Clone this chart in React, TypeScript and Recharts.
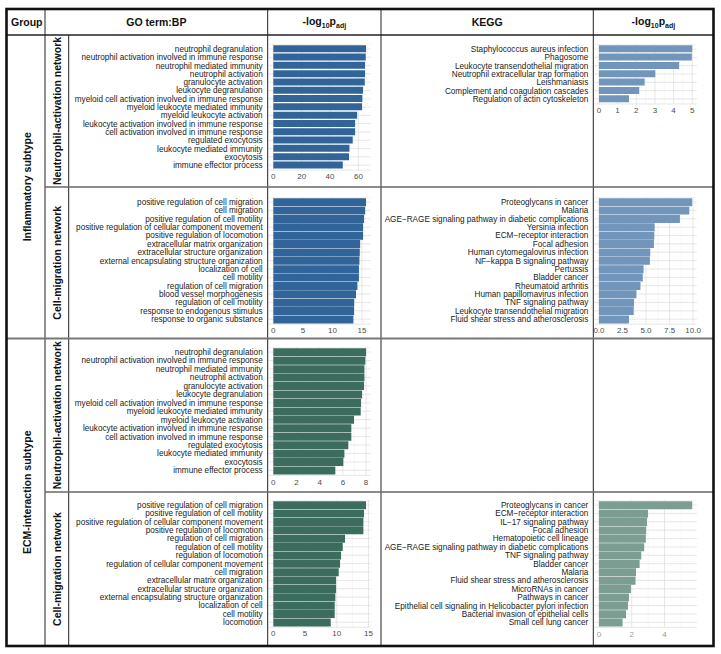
import React from 'react';
import { BarChart, Bar, XAxis, YAxis, CartesianGrid } from 'recharts';

const FONT = '"Liberation Sans", Arial, Helvetica, sans-serif';

// ---------- data ----------
const goNeutroTerms = [
  'neutrophil degranulation',
  'neutrophil activation involved in immune response',
  'neutrophil mediated immunity',
  'neutrophil activation',
  'granulocyte activation',
  'leukocyte degranulation',
  'myeloid cell activation involved in immune response',
  'myeloid leukocyte mediated immunity',
  'myeloid leukocyte activation',
  'leukocyte activation involved in immune response',
  'cell activation involved in immune response',
  'regulated exocytosis',
  'leukocyte mediated immunity',
  'exocytosis',
  'immune effector process',
];
const goInflNeutroValues = [65.4, 65.2, 64.7, 64.7, 64.5, 63.3, 62.8, 62.6, 59.1, 57.7, 57.7, 56.0, 53.7, 53.4, 49.0];
const goInflNeutroTicks = [0, 20, 40, 60];

const goEcmNeutroValues = [8.0, 7.94, 7.86, 7.86, 7.83, 7.66, 7.57, 7.54, 6.96, 6.73, 6.73, 6.47, 6.13, 6.04, 5.35];
const goEcmNeutroTicks = [0, 2, 4, 6, 8];

const goInflMigTerms = [
  'positive regulation of cell migration',
  'cell migration',
  'positive regulation of cell motility',
  'positive regulation of cellular component movement',
  'positive regulation of locomotion',
  'extracellular matrix organization',
  'extracellular structure organization',
  'external encapsulating structure organization',
  'localization of cell',
  'cell motility',
  'regulation of cell migration',
  'blood vessel morphogenesis',
  'regulation of cell motility',
  'response to endogenous stimulus',
  'response to organic substance',
];
const goInflMigValues = [15.7, 15.55, 15.37, 15.2, 15.2, 14.7, 14.64, 14.58, 14.5, 14.5, 14.24, 14.0, 13.7, 13.68, 13.56];
const goInflMigTicks = [0, 5, 10, 15];

const goEcmMigTerms = [
  'positive regulation of cell migration',
  'positive regulation of cell motility',
  'positive regulation of cellular component movement',
  'positive regulation of locomotion',
  'regulation of cell migration',
  'regulation of cell motility',
  'regulation of locomotion',
  'regulation of cellular component movement',
  'cell migration',
  'extracellular matrix organization',
  'extracellular structure organization',
  'external encapsulating structure organization',
  'localization of cell',
  'cell motility',
  'locomotion',
];
const goEcmMigValues = [14.62, 14.3, 14.2, 14.2, 11.3, 10.94, 10.68, 10.52, 10.31, 9.89, 9.89, 9.78, 9.68, 9.68, 9.05];
const goEcmMigTicks = [0, 5, 10, 15];

const keggInflNeutroTerms = [
  'Staphylococcus aureus infection',
  'Phagosome',
  'Leukocyte transendothelial migration',
  'Neutrophil extracellular trap formation',
  'Leishmaniasis',
  'Complement and coagulation cascades',
  'Regulation of actin cytoskeleton',
];
const keggInflNeutroValues = [5.0, 4.98, 4.3, 3.02, 2.45, 2.16, 1.61];
const keggInflNeutroTicks = [0, 1, 2, 3, 4, 5];

const keggInflMigTerms = [
  'Proteoglycans in cancer',
  'Malaria',
  'AGE\u2212RAGE signaling pathway in diabetic complications',
  'Yersinia infection',
  'ECM\u2212receptor interaction',
  'Focal adhesion',
  'Human cytomegalovirus infection',
  'NF\u2212kappa B signaling pathway',
  'Pertussis',
  'Bladder cancer',
  'Rheumatoid arthritis',
  'Human papillomavirus infection',
  'TNF signaling pathway',
  'Leukocyte transendothelial migration',
  'Fluid shear stress and atherosclerosis',
];
const keggInflMigValues = [9.91, 9.6, 8.6, 5.92, 5.88, 5.84, 5.45, 5.41, 4.74, 4.66, 4.41, 3.98, 3.72, 3.69, 3.19];
const keggInflMigTicks = [0, 2.5, 5, 7.5, 10];

const keggEcmMigTerms = [
  'Proteoglycans in cancer',
  'ECM\u2212receptor interaction',
  'IL\u221217 signaling pathway',
  'Focal adhesion',
  'Hematopoietic cell lineage',
  'AGE\u2212RAGE signaling pathway in diabetic complications',
  'TNF signaling pathway',
  'Bladder cancer',
  'Malaria',
  'Fluid shear stress and atherosclerosis',
  'MicroRNAs in cancer',
  'Pathways in cancer',
  'Epithelial cell signaling in Helicobacter pylori infection',
  'Bacterial invasion of epithelial cells',
  'Small cell lung cancer',
];
const keggEcmMigValues = [5.69, 2.99, 2.93, 2.88, 2.86, 2.76, 2.58, 2.48, 2.26, 2.23, 1.95, 1.83, 1.77, 1.65, 1.44];
const keggEcmMigTicks = [0, 2, 4];

// ---------- colours ----------
const BLUE = '#31659a';
const BLUE_LIGHT = '#7195bb';
const GREEN = '#3b6c5d';
const GREEN_LIGHT = '#7b9d92';

// ---------- panel ----------
type PanelProps = {
  terms: string[];
  values: number[];
  ticks: number[];
  color: string;
  left: number;
  top: number;
  yWidth: number;
  plotW: number;
  step: number;
  tickFmt?: (v: number) => string;
  tickFill?: string;
};

const YTick = (props: any) => {
  const { x, y, payload } = props;
  return (
    <text x={x} y={y} dy="0.36em" textAnchor="end" fontSize={8.2} fill="#1a1a1a" fontFamily={FONT}>
      {payload.value}
    </text>
  );
};

const makeXTick = (fmt: (v: number) => string, fill: string) => (props: any) => {
  const { x, y, payload } = props;
  return (
    <text x={x} y={y} dy="0.71em" textAnchor="middle" fontSize={8} fill={fill} fontFamily={FONT}>
      {fmt(payload.value)}
    </text>
  );
};

const RIGHT_PAD = 14;

const Panel = ({ terms, values, ticks, color, left, top, yWidth, plotW, step, tickFmt, tickFill }: PanelProps) => {
  const data = terms.map((t, i) => ({ term: t, v: values[i] }));
  const max = Math.max(...values);
  const domain: [number, number] = [-0.05 * max, 1.05 * max];
  const minors: number[] = [];
  for (let i = 0; i < ticks.length - 1; i++) minors.push((ticks[i] + ticks[i + 1]) / 2);
  const lastHalf = ticks[ticks.length - 1] + (ticks[1] - ticks[0]) / 2;
  if (lastHalf <= domain[1]) minors.push(lastHalf);
  const n = terms.length;
  const plotH = (n + 0.2) * step;
  const xH = 14;
  const fmt = tickFmt || ((v: number) => String(v));
  const XTick = makeXTick(fmt, tickFill || '#4d4d4d');
  return (
    <div style={{ position: 'absolute', left, top }}>
      <BarChart
        width={yWidth + plotW + RIGHT_PAD}
        height={plotH + xH}
        data={data}
        layout="vertical"
        margin={{ top: 0, right: RIGHT_PAD, bottom: 0, left: 0 }}
        barCategoryGap="5%"
      >
        <CartesianGrid horizontal={false} verticalValues={minors} stroke="#eeeeee" strokeWidth={0.5} />
        <CartesianGrid verticalValues={ticks} stroke="#dcdcdc" strokeWidth={0.7} />
        <XAxis
          type="number"
          domain={domain}
          ticks={ticks}
          interval={0}
          axisLine={false}
          tickLine={false}
          tickSize={0}
          tickMargin={3.5}
          height={xH}
          tick={<XTick />}
          allowDataOverflow
        />
        <YAxis
          type="category"
          dataKey="term"
          width={yWidth}
          interval={0}
          axisLine={false}
          tickLine={false}
          tickSize={0}
          tickMargin={6}
          padding={{ top: 0.1 * step, bottom: 0.1 * step }}
          tick={<YTick />}
        />
        <Bar dataKey="v" fill={color} isAnimationActive={false} />
      </BarChart>
    </div>
  );
};

// ---------- layout ----------
const GO_LEFT = 70;
const GO_YW = 198.7;
const GO_PW = 102;
const KG_LEFT = 383;
const KG_YW = 211.3;
const KG_PW = 102.6;

const X0 = 6.5, X1 = 713.5, Y0 = 9, Y1 = 646;
const COLS = [45, 68.7, 267.7, 381, 593.3];
const HEAD = 35;
const ROWS = [187, 338.5, 492];

const SubLog = ({ x, y }: { x: number; y: number }) => (
  <text x={x} y={y} textAnchor="middle" fontSize={10.5} fontWeight="bold" fill="#111" fontFamily={FONT}>
    <tspan>-log</tspan>
    <tspan fontSize={7} dy={2.5}>10</tspan>
    <tspan dy={-2.5}>p</tspan>
    <tspan fontSize={7} dy={2.5}>adj</tspan>
  </text>
);

const VText = ({ x, y, children }: { x: number; y: number; children: React.ReactNode }) => (
  <text
    transform={`translate(${x},${y}) rotate(-90)`}
    textAnchor="middle"
    dominantBaseline="central"
    fontSize={10.5}
    fontWeight="bold"
    fill="#111"
    fontFamily={FONT}
  >
    {children}
  </text>
);

const Table = () => (
  <svg width={721} height={654} style={{ position: 'absolute', left: 0, top: 0, pointerEvents: 'none' }}>
    {/* header */}
    <line x1={X0} x2={X1} y1={HEAD} y2={HEAD} stroke="#222" strokeWidth={1.6} />
    {/* vertical lines */}
    <line x1={COLS[0]} x2={COLS[0]} y1={Y0} y2={Y1} stroke="#222" strokeWidth={1} />
    <line x1={COLS[1]} x2={COLS[1]} y1={HEAD} y2={Y1} stroke="#222" strokeWidth={1} />
    <line x1={COLS[2]} x2={COLS[2]} y1={Y0} y2={Y1} stroke="#222" strokeWidth={1} />
    <line x1={COLS[3]} x2={COLS[3]} y1={Y0} y2={Y1} stroke="#222" strokeWidth={1} />
    <line x1={COLS[4]} x2={COLS[4]} y1={Y0} y2={Y1} stroke="#222" strokeWidth={1} />
    {/* row lines */}
    <line x1={COLS[0]} x2={X1} y1={ROWS[0]} y2={ROWS[0]} stroke="#666" strokeWidth={1.4} />
    <line x1={X0} x2={X1} y1={ROWS[1]} y2={ROWS[1]} stroke="#777" strokeWidth={1.8} />
    <line x1={COLS[0]} x2={X1} y1={ROWS[2]} y2={ROWS[2]} stroke="#666" strokeWidth={1.4} />
    {/* outer */}
    <rect x={X0} y={Y0} width={X1 - X0} height={Y1 - Y0} fill="none" stroke="#111" strokeWidth={2.6} />
    {/* header texts */}
    <text x={(X0 + COLS[0]) / 2 + 1} y={25.5} textAnchor="middle" fontSize={10.5} fontWeight="bold" fill="#111" fontFamily={FONT}>Group</text>
    <text x={(COLS[0] + COLS[2]) / 2} y={25.5} textAnchor="middle" fontSize={10.5} fontWeight="bold" fill="#111" fontFamily={FONT}>GO term:BP</text>
    <SubLog x={(COLS[2] + COLS[3]) / 2} y={25} />
    <text x={(COLS[3] + COLS[4]) / 2} y={25.5} textAnchor="middle" fontSize={10.5} fontWeight="bold" fill="#111" fontFamily={FONT}>KEGG</text>
    <SubLog x={(COLS[4] + X1) / 2} y={25} />
    {/* group labels */}
    <VText x={(X0 + COLS[0]) / 2 + 1} y={(HEAD + ROWS[1]) / 2}>Inflammatory subtype</VText>
    <VText x={(X0 + COLS[0]) / 2 + 1} y={(ROWS[1] + Y1) / 2}>ECM-interaction subtype</VText>
    <VText x={(COLS[0] + COLS[1]) / 2} y={(HEAD + ROWS[0]) / 2}>Neutrophil-activation network</VText>
    <VText x={(COLS[0] + COLS[1]) / 2} y={(ROWS[0] + ROWS[1]) / 2}>Cell-migration network</VText>
    <VText x={(COLS[0] + COLS[1]) / 2} y={(ROWS[1] + ROWS[2]) / 2}>Neutrophil-activation network</VText>
    <VText x={(COLS[0] + COLS[1]) / 2} y={(ROWS[2] + Y1) / 2}>Cell-migration network</VText>
  </svg>
);

export default function App() {
  return (
    <div style={{ position: 'absolute', left: 0, top: 0, width: 721, height: 654, background: '#fff', fontFamily: FONT }}>
      <Panel terms={goNeutroTerms} values={goInflNeutroValues} ticks={goInflNeutroTicks} color={BLUE}
        left={GO_LEFT} top={43.5} yWidth={GO_YW} plotW={GO_PW} step={8.3} />
      <Panel terms={keggInflNeutroTerms} values={keggInflNeutroValues} ticks={keggInflNeutroTicks} color={BLUE_LIGHT}
        left={KG_LEFT} top={43.8} yWidth={KG_YW} plotW={KG_PW} step={8.33} />
      <Panel terms={goInflMigTerms} values={goInflMigValues} ticks={goInflMigTicks} color={BLUE}
        left={GO_LEFT} top={196.8} yWidth={GO_YW} plotW={GO_PW} step={8.37} />
      <Panel terms={keggInflMigTerms} values={keggInflMigValues} ticks={keggInflMigTicks} color={BLUE_LIGHT}
        left={KG_LEFT} top={196.8} yWidth={KG_YW} plotW={KG_PW} step={8.37}
        tickFmt={(v) => v.toFixed(1)} />
      <Panel terms={goNeutroTerms} values={goEcmNeutroValues} ticks={goEcmNeutroTicks} color={GREEN}
        left={GO_LEFT} top={346.6} yWidth={GO_YW} plotW={GO_PW} step={8.45} />
      <Panel terms={goEcmMigTerms} values={goEcmMigValues} ticks={goEcmMigTicks} color={GREEN}
        left={GO_LEFT} top={500} yWidth={GO_YW} plotW={GO_PW} step={8.37} />
      <Panel terms={keggEcmMigTerms} values={keggEcmMigValues} ticks={keggEcmMigTicks} color={GREEN_LIGHT}
        left={KG_LEFT} top={500} yWidth={KG_YW} plotW={KG_PW} step={8.38} tickFill="#9a9a9a" />
      <Table />
    </div>
  );
}
